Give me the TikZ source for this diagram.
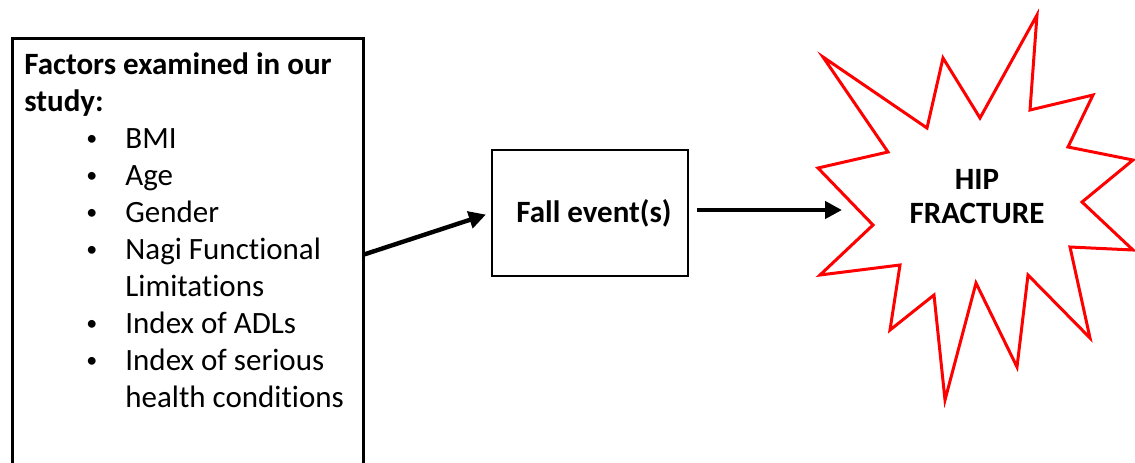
\documentclass[tikz,border=0pt]{standalone}
\usepackage{fontspec}
\setmainfont{Carlito}[Ligatures=NoCommon]
\usetikzlibrary{arrows.meta}

\tikzset{
  outline/.style={draw, line width=1.3pt},
  flow/.style={-{Triangle[length=8.5pt,width=8.5pt]}, line width=2.2pt},
  burst/.style={draw=red, line width=1.5pt, line join=miter},
  bodytext/.style={font=\fontsize{15.5}{18.5}\selectfont},
  boldtext/.style={font=\fontsize{15.5}{17}\selectfont\bfseries},
}
\newcommand{\bulletrow}[1]{\hspace*{31pt}\makebox[19.5pt][l]{\raisebox{1.2pt}{\fontsize{11}{11}\selectfont\textbullet}}#1}
\newcommand{\controw}[1]{\hspace*{50.5pt}#1}

\begin{document}
\begin{tikzpicture}[x=0.5pt, y=-0.5pt]
  \useasboundingbox (0,0) rectangle (1135,462);
  \clip (0,0) rectangle (1135,462);

  % Factors box (runs off the bottom edge)
  \node[outline, anchor=north west, minimum width=175.5pt, minimum height=216pt, inner sep=0pt] (studybox) at (11,37) {};
  \node[bodytext, anchor=north west, align=left, inner sep=0pt] (factors) at (24,52) {
    \textbf{Factors examined in our}\\
    \textbf{study:}\\
    \bulletrow{BMI}\\
    \bulletrow{Age}\\
    \bulletrow{Gender}\\
    \bulletrow{Nagi Functional}\\
    \controw{Limitations}\\
    \bulletrow{Index of ADLs}\\
    \bulletrow{Index of serious}\\
    \controw{health conditions}
  };

  % Fall event box
  \node[outline, boldtext, minimum width=98pt, minimum height=63pt] (fall) at (590,213) {\hspace*{4pt}Fall event(s)};

  % Fracture burst
  \draw[burst] (1037,15) -- (1030,110) -- (1093,95) -- (1068,147) -- (1133,160)
    -- (1082,202) -- (1133,250) -- (1070,247) -- (1090,338) -- (1028,275)
    -- (1017,367) -- (976,283) -- (945,400) -- (934,295) -- (890,330)
    -- (900,265) -- (820,275) -- (873,225) -- (818,168) -- (888,152)
    -- (823,57) -- (927,128) -- (943,58) -- (980,118) -- cycle;
  \node[boldtext, align=center] (fracture) at (977,197) {HIP\\FRACTURE};
  \coordinate (burstedge) at (842,210);

  % Arrows
  \draw[flow, shorten >=2.5pt] (studybox.east) -- (fall.west);
  \draw[flow, shorten <=4pt] (fall.east |- burstedge) -- (burstedge);
\end{tikzpicture}
\end{document}
